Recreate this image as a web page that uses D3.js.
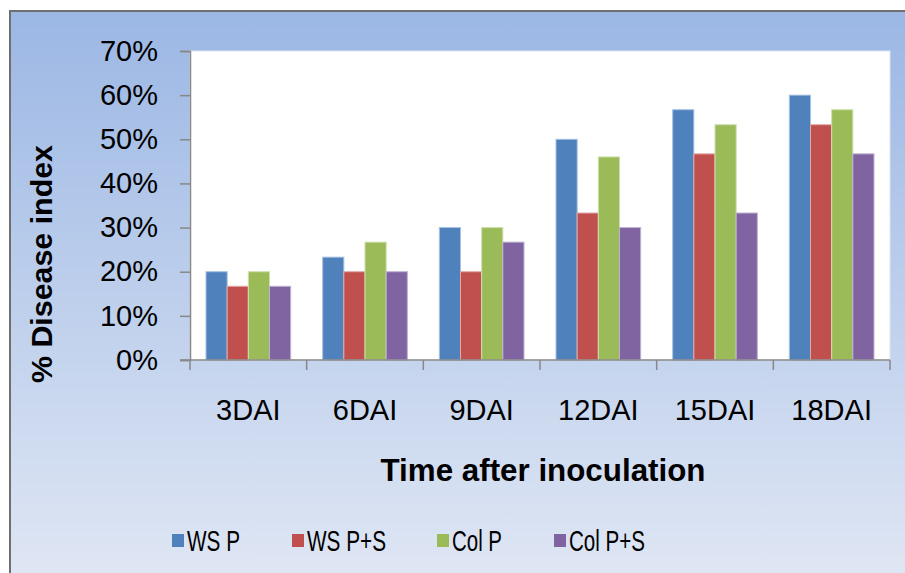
<!DOCTYPE html>
<html>
<head>
<meta charset="utf-8">
<script src="https://cdn.jsdelivr.net/npm/d3@7"></script>
<style>
  body { margin: 0; background: #fff; }
  svg { display: block; font-family: "Liberation Sans", Arial, sans-serif; }
</style>
</head>
<body>
<div id="chart"></div>
<script>
//data (percent)
var categories = ["3DAI", "6DAI", "9DAI", "12DAI", "15DAI", "18DAI"];
var seriesNames = ["WS P", "WS P+S", "Col P", "Col P+S"];
var wsP    = [20, 23.3, 30, 50, 56.7, 60];
var wsPS   = [16.7, 20, 20, 33.3, 46.7, 53.3];
var colP   = [20, 26.7, 30, 46, 53.3, 56.7];
var colPS  = [16.7, 20, 26.7, 30, 33.3, 46.7];
var yTicks = [0, 10, 20, 30, 40, 50, 60, 70];
var colors = ["#4f81bd", "#c0504d", "#9bbb59", "#8064a2"];
var edges  = ["#a7c0e0", "#e0a8a6", "#cde0ac", "#bfb1d1"];

var values = [wsP, wsPS, colP, colPS];

var W = 905, H = 573;
var plot = {left: 190, top: 51, right: 890, bottom: 360};

var svg = d3.select("#chart").append("svg")
  .attr("width", W)
  .attr("height", H);

//background gradient
var grad = svg.append("defs").append("linearGradient")
  .attr("id", "bg")
  .attr("x1", 0).attr("y1", 0).attr("x2", 0).attr("y2", 1);
grad.append("stop").attr("offset", "0%").attr("stop-color", "#9bb7e4");
grad.append("stop").attr("offset", "100%").attr("stop-color", "#e0e7f4");

svg.append("rect")
  .attr("x", 10).attr("y", 11)
  .attr("width", W).attr("height", H)
  .attr("fill", "url(#bg)")
  .attr("stroke", "#6f6f6f")
  .attr("stroke-width", 2);

//plot area
svg.append("rect")
  .attr("x", plot.left).attr("y", plot.top)
  .attr("width", plot.right - plot.left)
  .attr("height", plot.bottom - plot.top)
  .attr("fill", "#fff")
  .attr("stroke", "#dbe4f3")
  .attr("stroke-width", 1);

//scales
var x0 = d3.scaleBand()
  .domain(categories)
  .range([plot.left, plot.right]);

var step = x0.step();
var x1 = d3.scaleBand()
  .domain(seriesNames)
  .range([16, step - 16]);

var y = d3.scaleLinear()
  .domain([0, 70])
  .range([plot.bottom, plot.top]);

//bars
var groups = svg.append("g").attr("class", "bars")
  .selectAll("g")
  .data(seriesNames)
  .enter()
  .append("g")
  .attr("fill", function(d, i) { return colors[i]; })
  .attr("stroke", function(d, i) { return edges[i]; });

groups.selectAll("rect")
  .data(function(d, i) {
    return values[i].map(function(v, j) { return {s: d, c: categories[j], v: v}; });
  })
  .enter()
  .append("rect")
  .attr("x", function(d) { return x0(d.c) + x1(d.s); })
  .attr("y", function(d) { return y(d.v); })
  .attr("width", x1.bandwidth())
  .attr("height", function(d) { return plot.bottom - y(d.v); })
  .attr("stroke-width", 1);

//y axis
var yAxis = svg.append("g")
  .attr("transform", "translate(" + plot.left + ",0)")
  .call(d3.axisLeft(y)
    .tickValues(yTicks)
    .tickSize(10)
    .tickPadding(22)
    .tickFormat(function(d) { return d + "%"; }));

//x axis, ticks at the category boundaries
var xAxis = svg.append("g")
  .attr("transform", "translate(0," + plot.bottom + ")");

xAxis.append("line")
  .attr("x1", plot.left - 10).attr("x2", plot.right)
  .attr("y1", 0).attr("y2", 0);

xAxis.selectAll(".bound")
  .data(categories.concat(["end"]))
  .enter()
  .append("line")
  .attr("class", "bound")
  .attr("x1", function(d, i) { return plot.left + i * step; })
  .attr("x2", function(d, i) { return plot.left + i * step; })
  .attr("y1", 0).attr("y2", 10);

xAxis.selectAll("text")
  .data(categories)
  .enter()
  .append("text")
  .attr("x", function(d) { return x0(d) + step / 2; })
  .attr("y", 60)
  .attr("text-anchor", "middle")
  .text(function(d) { return d; });

//axis styling
svg.selectAll(".domain").attr("stroke", "#888").attr("stroke-width", 1.5);
yAxis.selectAll(".tick line").attr("stroke", "#888").attr("stroke-width", 1.5);
xAxis.selectAll("line").attr("stroke", "#888").attr("stroke-width", 1.5);
yAxis.selectAll("text")
  .attr("font-size", 29)
  .attr("font-family", "Liberation Sans, Arial, sans-serif")
  .attr("fill", "#000");
xAxis.selectAll("text")
  .attr("font-size", 29)
  .attr("fill", "#000");

//axis titles
svg.append("text")
  .attr("x", 543)
  .attr("y", 481)
  .attr("text-anchor", "middle")
  .attr("font-size", 31)
  .attr("font-weight", "bold")
  .attr("textLength", 325)
  .attr("lengthAdjust", "spacingAndGlyphs")
  .text("Time after inoculation");

svg.append("text")
  .attr("transform", "translate(52,264) rotate(-90)")
  .attr("text-anchor", "middle")
  .attr("font-size", 30)
  .attr("font-weight", "bold")
  .attr("textLength", 238)
  .attr("lengthAdjust", "spacingAndGlyphs")
  .text("% Disease index");

//legend
var legendX = [172, 292, 437, 554];
var legendW = [53, 79, 50, 76];

var legend = svg.append("g").attr("class", "legend")
  .selectAll("g")
  .data(seriesNames)
  .enter()
  .append("g")
  .attr("transform", function(d, i) { return "translate(" + legendX[i] + ",0)"; });

legend.append("rect")
  .attr("x", 0).attr("y", 534)
  .attr("width", 12).attr("height", 13)
  .attr("fill", function(d, i) { return colors[i]; });

legend.append("text")
  .attr("x", 15)
  .attr("y", 551)
  .attr("font-size", 29)
  .attr("textLength", function(d, i) { return legendW[i]; })
  .attr("lengthAdjust", "spacingAndGlyphs")
  .text(function(d) { return d; });
</script>
</body>
</html>
